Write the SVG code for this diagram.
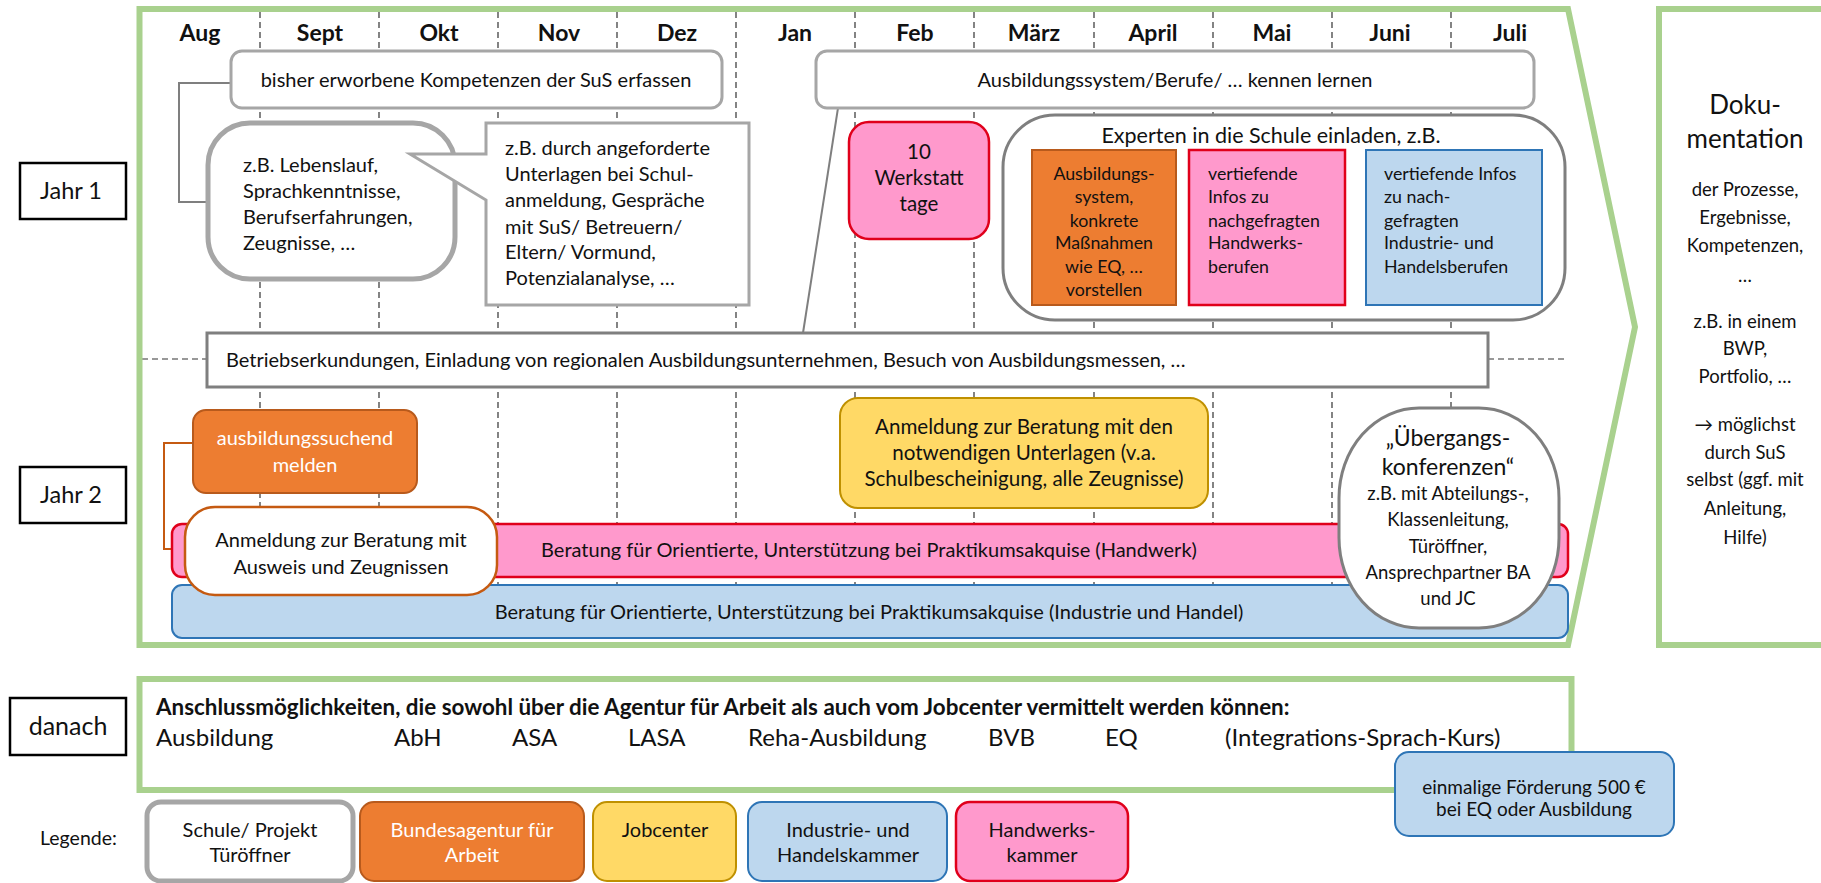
<svg xmlns="http://www.w3.org/2000/svg" width="1821" height="883" viewBox="0 0 1821 883">
<style>
text{font-family:Lato,"Liberation Sans","DejaVu Sans",sans-serif;fill:#111;font-size:20px}
.m{font-weight:bold;font-size:23px;text-anchor:middle}
.c{text-anchor:middle}
.s18{font-size:18.5px}
.s17{font-size:17.8px}
.s19{font-size:19px}
.w{fill:#fff}
.grid{stroke:#333;stroke-width:1.2;stroke-dasharray:6 4;fill:none}
.frame{fill:none;stroke:#A9D18E;stroke-width:6}
.sch{fill:#fff;stroke:#A6A6A6;stroke-width:3}
.sch5{fill:#fff;stroke:#A6A6A6;stroke-width:5}
.dg{fill:#fff;stroke:#7F7F7F;stroke-width:3}
.ba{fill:#ED7D31;stroke:#B85A1C;stroke-width:2}
.hwk{fill:#FF99CC;stroke:#E0001B;stroke-width:2.5}
.ihk{fill:#BDD7EE;stroke:#2E75B6;stroke-width:2}
.jc{fill:#FFD966;stroke:#BF9000;stroke-width:2}
.lbl{fill:#fff;stroke:#000;stroke-width:2.5}
.con{fill:none;stroke:#7F7F7F;stroke-width:2}
</style>

<g id="background">
  <g class="grid">
    <path d="M260,12V642M379,12V642M498,12V642M617,12V642M736,12V642M855,12V642M974,12V642M1094,12V642M1213,12V642M1332,12V642M1451,12V642"/>
    <path d="M142,359H207M1488,359H1567"/>
  </g>
  <polygon id="frame-jahr" class="frame" points="139.5,9 1568,9 1635,327 1568,645 139.5,645"/>
  <rect id="frame-doku" class="frame" x="1659" y="9" width="168" height="636"/>
</g>

<g id="months">
  <text class="m" x="200" y="41">Aug</text>
  <text class="m" x="320" y="41">Sept</text>
  <text class="m" x="439" y="41">Okt</text>
  <text class="m" x="559" y="41">Nov</text>
  <text class="m" x="677" y="41">Dez</text>
  <text class="m" x="795" y="41">Jan</text>
  <text class="m" x="915" y="41">Feb</text>
  <text class="m" x="1034" y="41">März</text>
  <text class="m" x="1153" y="41">April</text>
  <text class="m" x="1272" y="41">Mai</text>
  <text class="m" x="1390" y="41">Juni</text>
  <text class="m" x="1510" y="41">Juli</text>
</g>

<g id="connectors">
  <polyline class="con" points="231,83 179,83 179,202 209,202"/>
  <line class="con" x1="838" y1="108" x2="803" y2="333"/>
  <polyline class="con" style="stroke:#C55A11" points="193,443 164,443 164,549 186,549"/>
</g>

<g id="jahr1">
  <rect class="lbl" x="20" y="163" width="106" height="56"/>
  <text class="c" x="71" y="199" style="font-size:23.5px">Jahr 1</text>
</g>
<g id="jahr2">
  <rect class="lbl" x="20" y="467" width="106" height="56"/>
  <text class="c" x="71" y="503" style="font-size:23.5px">Jahr 2</text>
</g>

<g id="kompetenzen">
  <rect class="sch" x="231" y="51" width="491" height="57" rx="11"/>
  <text class="c" x="476" y="87">bisher erworbene Kompetenzen der SuS erfassen</text>
</g>

<g id="lebenslauf">
  <rect class="sch5" x="208" y="123" width="247" height="156" rx="42"/>
  <text x="243" y="172">z.B. Lebenslauf,</text>
  <text x="243" y="198">Sprachkenntnisse,</text>
  <text x="243" y="224">Berufserfahrungen,</text>
  <text x="243" y="250">Zeugnisse, …</text>
</g>

<g id="unterlagen">
  <path class="sch" d="M486,123H749V305H486V200L410,154H486Z"/>
  <text x="505" y="155">z.B. durch angeforderte</text>
  <text x="505" y="181">Unterlagen bei Schul-</text>
  <text x="505" y="207">anmeldung, Gespräche</text>
  <text x="505" y="234">mit SuS/ Betreuern/</text>
  <text x="505" y="259">Eltern/ Vormund,</text>
  <text x="505" y="285">Potenzialanalyse, …</text>
</g>

<g id="ausbildungssystem">
  <rect class="sch" x="816" y="51" width="718" height="57" rx="11"/>
  <text class="c" x="1175" y="87">Ausbildungssystem/Berufe/ … kennen lernen</text>
</g>

<g id="werkstatttage">
  <rect class="hwk" x="849" y="122" width="140" height="117" rx="20"/>
  <text class="c" x="919" y="159" style="font-size:20.5px">10</text>
  <text class="c" x="919" y="185" style="font-size:20.5px">Werkstatt</text>
  <text class="c" x="919" y="211" style="font-size:20.5px">tage</text>
</g>

<g id="experten">
  <rect class="dg" x="1003" y="115" width="562" height="205" rx="52"/>
  <text class="c" x="1271" y="143" style="font-size:21.5px">Experten in die Schule einladen, z.B.</text>
</g>
<g id="experten-ba">
  <rect class="ba" x="1032" y="150" width="144" height="155"/>
  <text class="c s17" x="1104" y="180">Ausbildungs-</text>
  <text class="c s17" x="1104" y="203">system,</text>
  <text class="c s17" x="1104" y="227">konkrete</text>
  <text class="c s17" x="1104" y="249">Maßnahmen</text>
  <text class="c s17" x="1104" y="273">wie EQ, …</text>
  <text class="c s17" x="1104" y="296">vorstellen</text>
</g>
<g id="experten-hwk">
  <rect class="hwk" x="1189" y="150" width="156" height="155"/>
  <text class="s17" x="1208" y="180">vertiefende</text>
  <text class="s17" x="1208" y="203">Infos zu</text>
  <text class="s17" x="1208" y="227">nachgefragten</text>
  <text class="s17" x="1208" y="249">Handwerks-</text>
  <text class="s17" x="1208" y="273">berufen</text>
</g>
<g id="experten-ihk">
  <rect class="ihk" x="1366" y="150" width="176" height="155"/>
  <text class="s17" x="1384" y="180">vertiefende Infos</text>
  <text class="s17" x="1384" y="203">zu nach-</text>
  <text class="s17" x="1384" y="227">gefragten</text>
  <text class="s17" x="1384" y="249">Industrie- und</text>
  <text class="s17" x="1384" y="273">Handelsberufen</text>
</g>

<g id="betriebserkundungen">
  <rect class="dg" x="207" y="333" width="1281" height="54"/>
  <text x="226" y="367">Betriebserkundungen, Einladung von regionalen Ausbildungsunternehmen, Besuch von Ausbildungsmessen, …</text>
</g>

<g id="ausbildungssuchend">
  <rect class="ba" x="193" y="410" width="224" height="83" rx="13"/>
  <text class="c w" x="305" y="445">ausbildungssuchend</text>
  <text class="c w" x="305" y="472">melden</text>
</g>

<g id="jobcenter-anmeldung">
  <rect class="jc" x="840" y="398" width="368" height="110" rx="18"/>
  <text class="c" x="1024" y="434" style="font-size:20.6px">Anmeldung zur Beratung mit den</text>
  <text class="c" x="1024" y="460" style="font-size:20.6px">notwendigen Unterlagen (v.a.</text>
  <text class="c" x="1024" y="486" style="font-size:20.6px">Schulbescheinigung, alle Zeugnisse)</text>
</g>

<g id="beratung-hwk">
  <rect class="hwk" x="172" y="524" width="1396" height="53" rx="10"/>
  <text class="c" x="869" y="557">Beratung für Orientierte, Unterstützung bei Praktikumsakquise (Handwerk)</text>
</g>
<g id="beratung-ihk">
  <rect class="ihk" x="172" y="585" width="1396" height="53" rx="10"/>
  <text class="c" x="869" y="619">Beratung für Orientierte, Unterstützung bei Praktikumsakquise (Industrie und Handel)</text>
</g>

<g id="anmeldung-ba">
  <rect x="185" y="507" width="312" height="88" rx="30" fill="#fff" stroke="#C55A11" stroke-width="2.5"/>
  <text class="c" x="341" y="547">Anmeldung zur Beratung mit</text>
  <text class="c" x="341" y="574">Ausweis und Zeugnissen</text>
</g>

<g id="uebergangskonferenzen">
  <rect class="dg" x="1339" y="408" width="220" height="220" rx="80" ry="90"/>
  <text class="c" x="1448" y="446" style="font-size:23px">„Übergangs-</text>
  <text class="c" x="1448" y="475" style="font-size:23px">konferenzen“</text>
  <text class="c s18" x="1448" y="500">z.B. mit Abteilungs-,</text>
  <text class="c s18" x="1448" y="526">Klassenleitung,</text>
  <text class="c s18" x="1448" y="553">Türöffner,</text>
  <text class="c s18" x="1448" y="579">Ansprechpartner BA</text>
  <text class="c s18" x="1448" y="605">und JC</text>
</g>

<g id="dokumentation">
  <text class="c" x="1745" y="114" style="font-size:26px">Doku-</text>
  <text class="c" x="1745" y="148" style="font-size:26px">mentation</text>
  <text class="c s18" x="1745" y="196">der Prozesse,</text>
  <text class="c s18" x="1745" y="224">Ergebnisse,</text>
  <text class="c s18" x="1745" y="252">Kompetenzen,</text>
  <text class="c s18" x="1745" y="282">…</text>
  <text class="c s18" x="1745" y="328">z.B. in einem</text>
  <text class="c s18" x="1745" y="355">BWP,</text>
  <text class="c s18" x="1745" y="383">Portfolio, …</text>
  <text class="c s18" x="1745" y="431">→ möglichst</text>
  <text class="c s18" x="1745" y="459">durch SuS</text>
  <text class="c s18" x="1745" y="486">selbst (ggf. mit</text>
  <text class="c s18" x="1745" y="515">Anleitung,</text>
  <text class="c s18" x="1745" y="544">Hilfe)</text>
</g>

<g id="danach">
  <rect class="lbl" x="10" y="698" width="116" height="57"/>
  <text class="c" x="68" y="735" style="font-size:25px">danach</text>
</g>

<g id="anschluss">
  <rect class="frame" x="139.5" y="679" width="1432" height="111"/>
  <text x="156" y="715" style="font-weight:bold;font-size:22.4px">Anschlussmöglichkeiten, die sowohl über die Agentur für Arbeit als auch vom Jobcenter vermittelt werden können:</text>
  <text x="156" y="746" style="font-size:24px">Ausbildung</text>
  <text x="394" y="746" style="font-size:24px">AbH</text>
  <text x="512" y="746" style="font-size:24px">ASA</text>
  <text x="628" y="746" style="font-size:24px">LASA</text>
  <text x="748" y="746" style="font-size:24px">Reha-Ausbildung</text>
  <text x="988" y="746" style="font-size:24px">BVB</text>
  <text x="1105" y="746" style="font-size:24px">EQ</text>
  <text x="1225" y="746" style="font-size:24px">(Integrations-Sprach-Kurs)</text>
</g>

<g id="foerderung">
  <rect class="ihk" x="1395" y="752" width="279" height="84" rx="14"/>
  <text class="c s19" x="1534" y="794">einmalige Förderung 500 €</text>
  <text class="c s19" x="1534" y="816">bei EQ oder Ausbildung</text>
</g>

<g id="legende">
  <text x="40" y="845" style="font-size:19.5px">Legende:</text>
  <g id="leg-schule">
    <rect class="sch5" x="147" y="802" width="206" height="79" rx="14"/>
    <text class="c" x="250" y="837">Schule/ Projekt</text>
    <text class="c" x="250" y="862">Türöffner</text>
  </g>
  <g id="leg-ba">
    <rect class="ba" x="360" y="802" width="224" height="79" rx="14"/>
    <text class="c w" x="472" y="837">Bundesagentur für</text>
    <text class="c w" x="472" y="862">Arbeit</text>
  </g>
  <g id="leg-jc">
    <rect class="jc" x="593" y="802" width="143" height="79" rx="14"/>
    <text class="c" x="665" y="837">Jobcenter</text>
  </g>
  <g id="leg-ihk">
    <rect class="ihk" x="748" y="802" width="199" height="79" rx="14"/>
    <text class="c" x="848" y="837">Industrie- und</text>
    <text class="c" x="848" y="862">Handelskammer</text>
  </g>
  <g id="leg-hwk">
    <rect class="hwk" x="956" y="802" width="172" height="79" rx="14"/>
    <text class="c" x="1042" y="837">Handwerks-</text>
    <text class="c" x="1042" y="862">kammer</text>
  </g>
</g>
</svg>
